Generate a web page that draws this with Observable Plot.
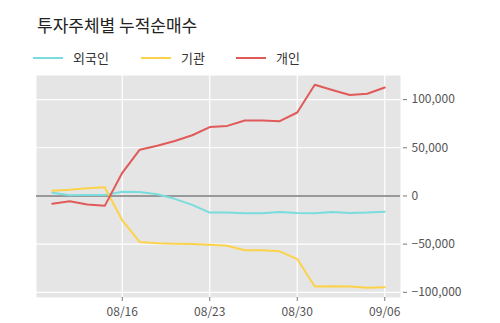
<!DOCTYPE html>
<html><head><meta charset="utf-8">
<script src="https://cdn.jsdelivr.net/npm/d3@7"></script>
<script src="https://cdn.jsdelivr.net/npm/@observablehq/plot@0.6"></script>
<style>
html,body{margin:0;padding:0;background:#fff;}
body{width:500px;height:323px;position:relative;overflow:hidden;font-family:"Noto Sans CJK KR","Noto Sans",sans-serif;}
#title{position:absolute;left:37px;top:16px;font-size:17px;color:#222;line-height:1;}
#legend{position:absolute;left:33px;top:51px;font-size:13px;color:#333;line-height:1;display:flex;}
.item{display:flex;align-items:center;margin-right:0;}
.sw{width:30px;height:2px;display:inline-block;margin-right:10px;}
#chart{position:absolute;left:0;top:0;}
</style></head>
<body>
<div id="chart"></div>
<div id="title">투자주체별 누적순매수</div>
<div id="legend"></div>
<script>
const dates = ["08/09","08/10","08/11","08/12","08/16","08/17","08/18","08/19","08/22","08/23","08/24","08/25","08/26","08/29","08/30","08/31","09/01","09/02","09/05","09/06"];
const seriesNames = ["외국인","기관","개인"];
const colors = ["#7adcdc","#fcd24a","#e05a5a"];
const foreign = [3300,700,1000,1000,4300,4000,1800,-3000,-9300,-17300,-17300,-18000,-18000,-16600,-17700,-18000,-16600,-17700,-17300,-16300];
const institution = [5400,6400,8000,9000,-25300,-47900,-49200,-49500,-50000,-50600,-51600,-56400,-56400,-57500,-65500,-93900,-93600,-94000,-95300,-94800];
const individual = [-8000,-5500,-8800,-10300,24000,48000,52000,57000,63000,71500,72700,78300,78300,77600,86600,115400,110000,104700,106000,112600];
const yTicks = [-100000,-50000,0,50000,100000];
const xTicks = ["08/16","08/23","08/30","09/06"];

const values = [foreign, institution, individual];
const data = [];
seriesNames.forEach((s,i)=>dates.forEach((d,j)=>data.push({date:d, series:s, value:values[i][j]})));

const leg = document.getElementById("legend");
seriesNames.forEach((s,i)=>{
  const it = document.createElement("div");
  it.className="item";
  it.style.width = (i===0?108:(i===1?95:80))+"px";
  it.innerHTML = `<span class="sw" style="background:${colors[i]}"></span><span>${s}</span>`;
  leg.appendChild(it);
});

const chart = Plot.plot({
  width: 500, height: 323,
  marginLeft: 36, marginRight: 100, marginTop: 75, marginBottom: 26,
  style: {fontFamily: '"Noto Sans CJK KR","Noto Sans",sans-serif', fontSize: "12px", color: "#555", background: "transparent"},
  x: {type: "point", domain: dates, padding: 0.9, round: false},
  y: {domain: [-105400, 125000]},
  color: {domain: seriesNames, range: colors},
  marks: [
    Plot.frame({fill: "#e5e5e5", stroke: null}),
    Plot.gridX(xTicks, {stroke: "#fff", strokeOpacity: 1, strokeWidth: 1.2}),
    Plot.gridY(yTicks, {stroke: "#fff", strokeOpacity: 1, strokeWidth: 1.2}),
    Plot.ruleY([0], {stroke: "#7a7a7a", strokeWidth: 1.5}),
    Plot.line(data, {x: "date", y: "value", z: "series", stroke: "series", strokeWidth: 2}),
    Plot.axisX({ticks: xTicks, tickSize: 4, tickPadding: 6, label: null, stroke: "#777", fill: "#555"}),
    Plot.axisY({anchor: "right", ticks: yTicks, tickFormat: d3.format(","), tickSize: 4, tickPadding: 5, label: null, fill: "#555", stroke: "#777", dx: 2})
  ]
});
document.getElementById("chart").appendChild(chart);
</script>
</body></html>
